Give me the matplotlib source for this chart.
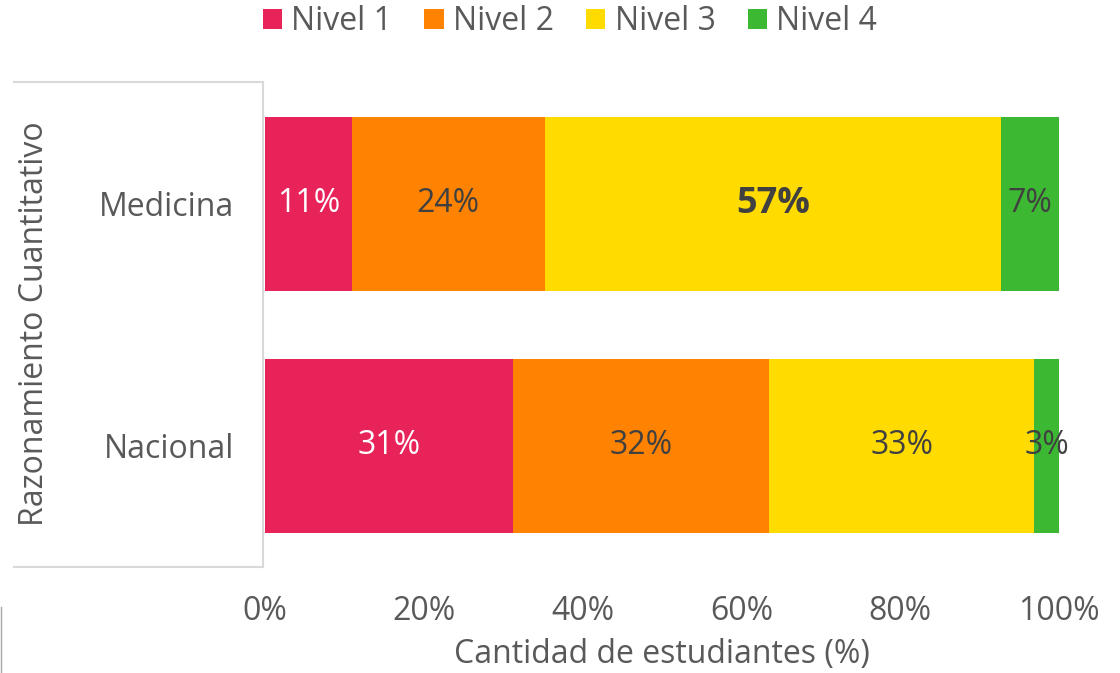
import matplotlib.pyplot as plt
from matplotlib.lines import Line2D

plt.rcParams['font.family'] = ['Open Sans', 'DejaVu Sans']

categorias = ["Nacional", "Medicina"]
niveles = ["Nivel 1", "Nivel 2", "Nivel 3", "Nivel 4"]
nivel1 = [31.2, 10.9]
nivel2 = [32.3, 24.4]
nivel3 = [33.4, 57.4]
nivel4 = [3.1, 7.3]
colores = ["#E8235A", "#FF8300", "#FFDB00", "#3DB833"]
color_etiqueta = ["white", "#404040", "#404040", "#404040"]
ticks_x = [0, 20, 40, 60, 80, 100]
gris = "#595959"
fs = 23

fig = plt.figure(figsize=(11.2, 6.73), dpi=100)
ax = fig.add_axes([265/1120, 1-567/673, (1059-265)/1120, (567-83)/673])

series = [nivel1, nivel2, nivel3, nivel4]
izq = [0, 0]
for k, vals in enumerate(series):
    bars = ax.barh(categorias, vals, left=izq, height=0.72, color=colores[k], label=niveles[k])
    for i, b in enumerate(bars):
        cx = b.get_x() + b.get_width()/2
        cy = b.get_y() + b.get_height()/2
        negrita = vals[i] == max(max(s) for s in series)
        ax.text(cx, cy, f"{round(vals[i])}%", ha="center", va="center",
                color=color_etiqueta[k], fontsize=26 if negrita else fs,
                fontweight="bold" if negrita else "normal")
    izq = [a + b for a, b in zip(izq, vals)]

ax.set_xlim(0, 100)
ax.set_ylim(-0.5, 1.5)
ax.set_xticks(ticks_x)
ax.set_xticklabels([f"{t}%" for t in ticks_x])
ax.tick_params(axis="x", length=0, pad=20, labelsize=fs, labelcolor=gris)
ax.tick_params(axis="y", length=0, pad=22, labelsize=fs, labelcolor=gris)
for s in ["top", "bottom", "left", "right"]:
    ax.spines[s].set_visible(False)

fig.text(662/1120, 1-655/673, "Cantidad de estudiantes (%)", ha="center", va="center",
         fontsize=fs, color=gris)

# caja de categorias
lc = "#D9D9D9"
fig.add_artist(Line2D([14/1120, 263/1120], [1-82/673, 1-82/673], color=lc, lw=1.5))
fig.add_artist(Line2D([14/1120, 263/1120], [1-567/673, 1-567/673], color=lc, lw=1.5))
fig.add_artist(Line2D([263/1120, 263/1120], [1-82/673, 1-567/673], color=lc, lw=1.5))
fig.add_artist(Line2D([1/1120, 1/1120], [1-607/673, 0], color="#A6A6A6", lw=1))
fig.text(35/1120, 1-324/673, "Razonamiento Cuantitativo", rotation=90, ha="center", va="center",
         fontsize=fs, color=gris)

fig.legend(loc="center", bbox_to_anchor=(570/1120, 1-22/673), ncol=4, frameon=False,
           fontsize=fs, labelcolor=gris, handlelength=0.6, handleheight=0.6,
           handletextpad=0.3, columnspacing=1.0)

fig.savefig("out.png", dpi=100, facecolor="white")
